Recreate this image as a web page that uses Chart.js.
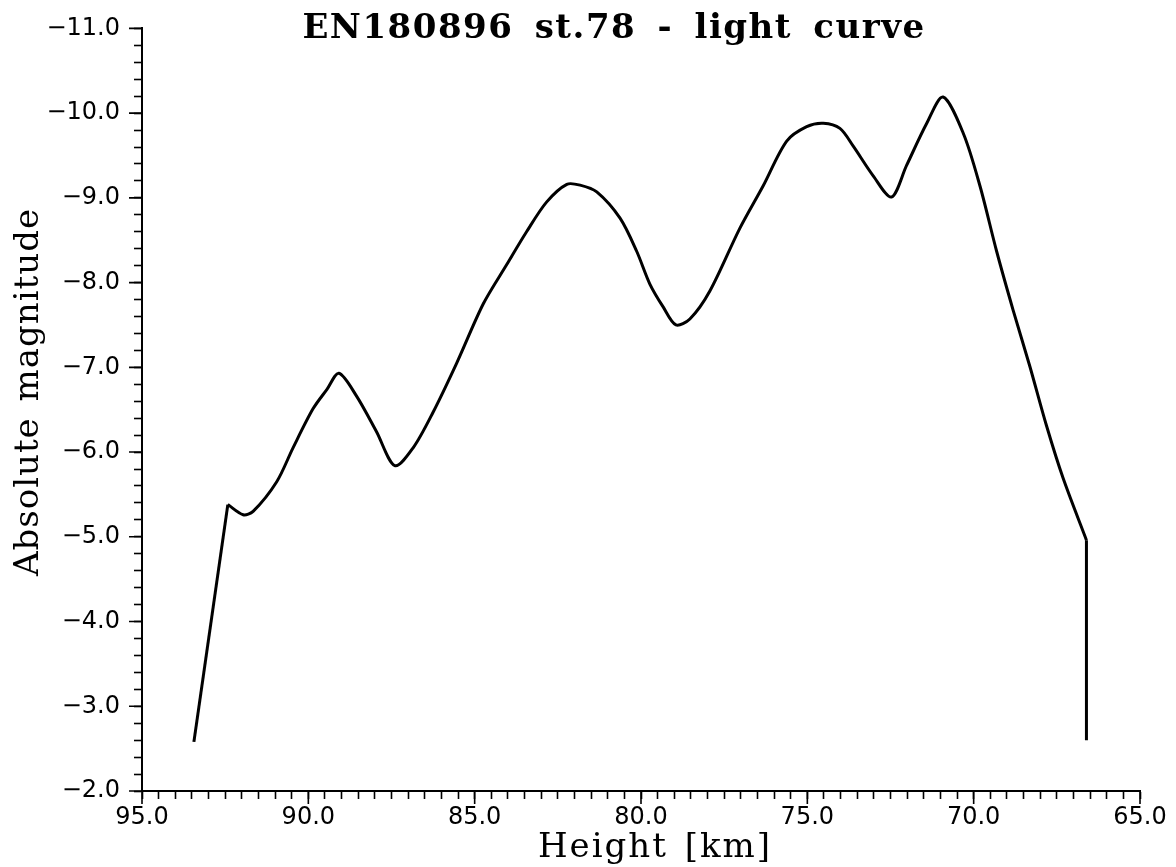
<!DOCTYPE html>
<html>
<head>
<meta charset="utf-8">
<script src="https://cdn.jsdelivr.net/npm/chart.js@4.4.1/dist/chart.umd.min.js"></script>
<style>
  html, body { margin: 0; padding: 0; background: #fff; }
</style>
</head>
<body>
<canvas id="myChart" width="1176" height="867"></canvas>
<script>
// light curve: height [km] vs absolute magnitude
const heights = [93.44, 92.42, 91.96, 91.66, 90.95, 90.46, 89.86, 89.44, 89.08, 88.55,
                 87.95, 87.40, 86.85, 86.25, 85.54, 84.74, 84.04, 83.44, 82.84, 82.23,
                 81.83, 81.33, 80.63, 80.13, 79.73, 79.33, 78.95, 78.53, 77.93, 77.03,
                 76.33, 75.62, 75.02, 74.52, 74.02, 73.62, 73.02, 72.47, 72.02, 71.41,
                 70.92, 70.31, 69.81, 69.31, 68.81, 68.31, 67.81, 67.31, 66.61, 66.61];
const magnitudes = [-2.58, -5.38, -5.26, -5.30, -5.65, -6.05, -6.51, -6.74, -6.93, -6.66,
                    -6.24, -5.84, -6.05, -6.47, -7.05, -7.75, -8.21, -8.60, -8.95, -9.16,
                    -9.15, -9.07, -8.76, -8.37, -7.98, -7.71, -7.50, -7.57, -7.90, -8.64,
                    -9.14, -9.67, -9.84, -9.88, -9.82, -9.61, -9.26, -9.01, -9.38, -9.88,
                    -10.19, -9.76, -9.14, -8.37, -7.67, -7.01, -6.31, -5.69, -4.96, -2.60];

const xMajor = [95, 90, 85, 80, 75, 70, 65];
const yMajor = [-11, -10, -9, -8, -7, -6, -5, -4, -3, -2];

const chartTitle = 'EN180896 st.78 - light curve';
const xTitle = 'Height [km]';
const yTitle = 'Absolute magnitude';

const points = heights.map((h, i) => ({ x: h, y: magnitudes[i] }));
const last = points.length - 1;

const isMajor = (v, list) => list.some(m => Math.abs(m - v) < 1e-6);

// longer ticks at labelled values + titles
const extras = {
  id: 'extras',
  afterDraw(chart) {
    const ctx = chart.ctx;
    const xs = chart.scales.x, ys = chart.scales.y;
    const area = chart.chartArea;
    ctx.save();
    ctx.strokeStyle = '#000';
    ctx.lineWidth = 1.6;
    ctx.beginPath();
    xMajor.forEach(v => {
      const px = xs.getPixelForValue(v);
      ctx.moveTo(px, area.bottom);
      ctx.lineTo(px, area.bottom + 13);
    });
    yMajor.forEach(v => {
      const py = ys.getPixelForValue(v);
      ctx.moveTo(area.left, py);
      ctx.lineTo(area.left - 13, py);
    });
    ctx.stroke();

    ctx.fillStyle = '#000';
    ctx.textAlign = 'center';
    ctx.textBaseline = 'alphabetic';

    ctx.font = 'bold 34px "DejaVu Serif"';
    ctx.letterSpacing = '1.5px';
    ctx.wordSpacing = '8px';
    ctx.fillText(chartTitle, 614, 38);

    ctx.wordSpacing = '4px';
    ctx.font = '34px "DejaVu Serif"';
    ctx.letterSpacing = '2px';
    ctx.fillText(xTitle, 655, 857);

    ctx.letterSpacing = '1px';
    ctx.translate(38, 392);
    ctx.rotate(-Math.PI / 2);
    ctx.fillText(yTitle, 0, 0);
    ctx.restore();
  }
};

const lineStyle = { showLine: true, borderColor: '#000', borderWidth: 3, pointRadius: 0 };

const ctx = document.getElementById('myChart').getContext('2d');
const myChart = new Chart(ctx, {
  type: 'scatter',
  data: {
    datasets: [
      Object.assign({ data: points.slice(0, 2), tension: 0 }, lineStyle),
      Object.assign({ data: points.slice(1, last), tension: 0.3 }, lineStyle),
      Object.assign({ data: points.slice(last - 1), tension: 0 }, lineStyle)
    ]
  },
  options: {
    responsive: false,
    animation: false,
    layout: { padding: { top: 17, right: 36, left: 0, bottom: 0 } },
    plugins: { legend: { display: false }, tooltip: { enabled: false } },
    scales: {
      x: {
        type: 'linear',
        reverse: true,
        min: 65,
        max: 95,
        afterFit: s => { s.height = 76; },
        border: { color: '#000', width: 2 },
        grid: { drawOnChartArea: false, color: '#000', tickLength: 8, tickWidth: 1.6 },
        ticks: {
          stepSize: 0.5,
          autoSkip: false,
          maxRotation: 0,
          padding: 4,
          color: '#000',
          font: { family: 'DejaVu Sans', size: 24 },
          callback: v => isMajor(v, xMajor) ? v.toFixed(1) : ''
        }
      },
      y: {
        type: 'linear',
        reverse: true,
        min: -11,
        max: -2,
        afterFit: s => { s.width = 142; },
        border: { color: '#000', width: 2 },
        grid: { drawOnChartArea: false, color: '#000', tickLength: 8, tickWidth: 1.6 },
        ticks: {
          stepSize: 0.2,
          autoSkip: false,
          padding: 14,
          color: '#000',
          font: { family: 'DejaVu Sans', size: 24 },
          callback: v => isMajor(v, yMajor) ? '\u2212' + Math.abs(v).toFixed(1) : ''
        }
      }
    }
  },
  plugins: [extras]
});
</script>
</body>
</html>
